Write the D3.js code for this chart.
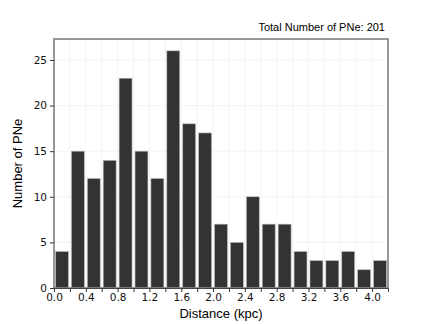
<!DOCTYPE html>
<html>
<head>
<meta charset="utf-8">
<script src="https://cdn.jsdelivr.net/npm/d3@7"></script>
<style>
body { margin: 0; background: #fff; }
svg { display: block; }
</style>
</head>
<body>
<script>
// bin edges start at 0.0, each 0.2 kpc wide
var binStart = [0.0, 0.2, 0.4, 0.6, 0.8, 1.0, 1.2, 1.4, 1.6, 1.8, 2.0, 2.2, 2.4, 2.6, 2.8, 3.0, 3.2, 3.4, 3.6, 3.8, 4.0];
var counts = [4, 15, 12, 14, 23, 15, 12, 26, 18, 17, 7, 5, 10, 7, 7, 4, 3, 3, 4, 2, 3];
var xTicks = [0.0, 0.4, 0.8, 1.2, 1.6, 2.0, 2.4, 2.8, 3.2, 3.6, 4.0];
var yTicks = [0, 5, 10, 15, 20, 25];
var binWidth = 0.2;

var width = 432, height = 324;
var margin = {top: 39, right: 44, bottom: 36, left: 54};
var w = width - margin.left - margin.right;
var h = height - margin.top - margin.bottom;

var svg = d3.select("body").append("svg")
    .attr("width", width)
    .attr("height", height);

var x = d3.scaleLinear().domain([0, 4.2]).range([0, w]);
var y = d3.scaleLinear().domain([0, 27.3]).range([h, 0]);

var g = svg.append("g")
    .attr("transform", "translate(" + margin.left + "," + margin.top + ")");

//faint grid
g.selectAll(".vgrid")
    .data(d3.range(0, 4.21, 0.2))
    .enter().append("line")
    .attr("x1", function(d) { return x(d); })
    .attr("x2", function(d) { return x(d); })
    .attr("y1", 0).attr("y2", h)
    .attr("stroke", "#f0f0f0").attr("stroke-width", 0.8);
g.selectAll(".hgrid")
    .data(yTicks)
    .enter().append("line")
    .attr("x1", 0).attr("x2", w)
    .attr("y1", function(d) { return y(d); })
    .attr("y2", function(d) { return y(d); })
    .attr("stroke", "#f0f0f0").attr("stroke-width", 0.8);

//bars
g.selectAll(".bar")
    .data(counts)
    .enter().append("rect")
    .attr("x", function(d, i) { return x(binStart[i]) + 1.5; })
    .attr("width", function(d, i) { return x(binStart[i] + binWidth) - x(binStart[i]) - 3; })
    .attr("y", function(d) { return y(d); })
    .attr("height", function(d) { return y(0) - y(d); })
    .attr("fill", "#333333")
    .attr("stroke", "#bbbbbb")
    .attr("stroke-width", 0.6);

//frame
g.append("rect")
    .attr("x", 0).attr("y", 0)
    .attr("width", w).attr("height", h)
    .attr("fill", "none")
    .attr("stroke", "#808080")
    .attr("stroke-width", 1.6);

//axes
g.append("g")
    .attr("transform", "translate(0," + h + ")")
    .call(d3.axisBottom(x).tickValues(xTicks).tickFormat(d3.format(".1f")).tickSize(4).tickPadding(2));
g.append("g")
    .attr("transform", "translate(0," + h + ")")
    .call(d3.axisBottom(x).tickValues(d3.range(0.2, 4.2, 0.4)).tickFormat("").tickSize(4))
    .select(".domain").remove();
g.append("g")
    .call(d3.axisLeft(y).tickValues(yTicks).tickSize(4).tickPadding(3))
    .select(".domain").remove();

svg.selectAll(".domain").attr("stroke", "#444");
svg.selectAll(".tick line").attr("stroke", "#333");
svg.selectAll(".tick text")
    .attr("font-family", "DejaVu Sans")
    .attr("font-size", 10.5)
    .attr("fill", "#111");

//labels
svg.append("text")
    .attr("x", margin.left + w / 2)
    .attr("y", 318)
    .attr("text-anchor", "middle")
    .attr("font-family", "Liberation Sans, Arial")
    .attr("font-size", 13)
    .text("Distance (kpc)");

svg.append("text")
    .attr("transform", "translate(22," + (margin.top + h / 2) + ") rotate(-90)")
    .attr("text-anchor", "middle")
    .attr("font-family", "Liberation Sans, Arial")
    .attr("font-size", 13)
    .text("Number of PNe");

svg.append("text")
    .attr("x", margin.left + w - 3)
    .attr("y", 31)
    .attr("text-anchor", "end")
    .attr("font-family", "Liberation Sans, Arial")
    .attr("font-size", 11)
    .text("Total Number of PNe: 201");
</script>
</body>
</html>
